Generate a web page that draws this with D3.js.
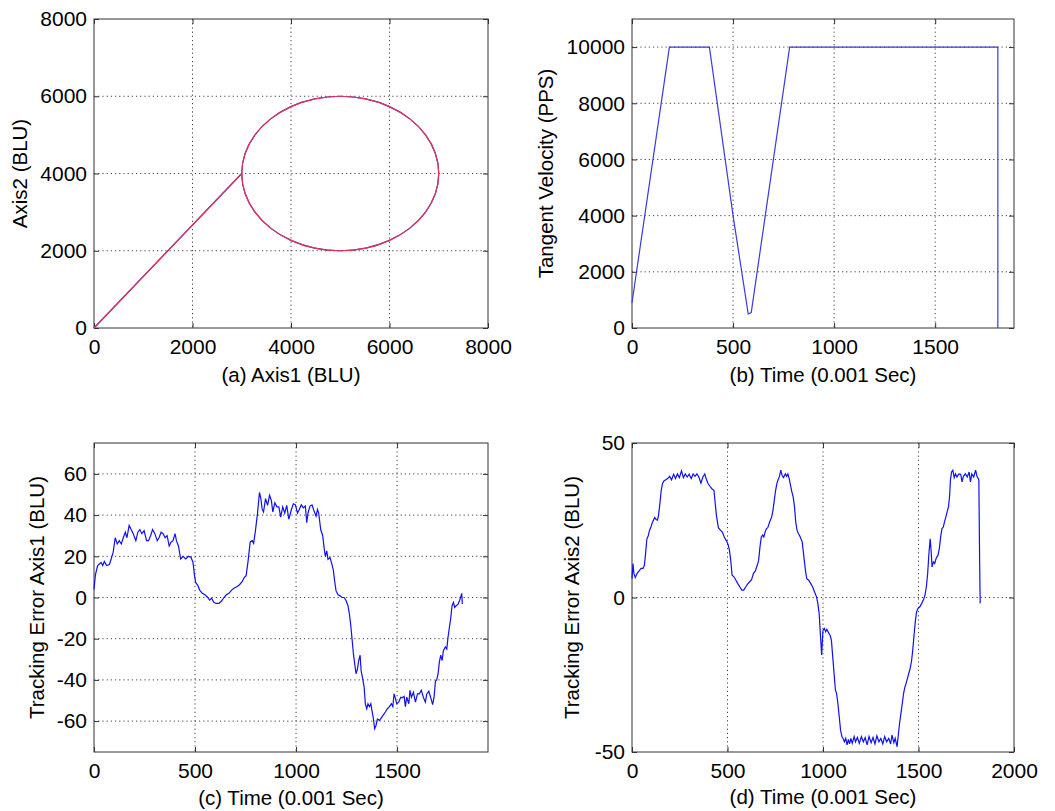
<!DOCTYPE html>
<html>
<head>
<meta charset="utf-8">
<style>
  body { margin: 0; background: #fff; }
  svg { font-family: 'Liberation Sans', Arial, sans-serif; }
  .axis text { font-size: 21px; fill: #000; }
  .axis .domain { display: none; }
  .axis .tick line { stroke: #333; }
  .grid line { stroke: #444; stroke-width: 1; stroke-dasharray: 1.2 3; }
  .label { font-size: 20.5px; fill: #000; }
</style>
</head>
<body>
<svg width="1055" height="811"></svg>
<script src="https://d3js.org/d3.v7.min.js"></script>
<script>
// (a) path: straight lead-in then the circle
const leadX = [0, 3000];
const leadY = [0, 4000];
const circleX = [3000, 3068, 3268, 3586, 4000, 4482, 5000, 5518, 6000, 6414, 6732, 6932,
                 7000, 6932, 6732, 6414, 6000, 5518, 5000, 4482, 4000, 3586, 3268, 3068];
const circleY = [4000, 4518, 5000, 5414, 5732, 5932, 6000, 5932, 5732, 5414, 5000, 4518,
                 4000, 3482, 3000, 2586, 2268, 2068, 2000, 2068, 2268, 2586, 3000, 3482];

// (b) tangent velocity
const velT = [0, 185, 383, 500, 575, 590, 780, 1810, 1810];
const velV = [900, 10000, 10000, 4000, 500, 550, 10000, 10000, 0];

// (c) tracking error axis1
const err1T = [0, 7, 18, 35, 43, 51, 62, 76, 85, 95, 105, 115, 125, 135, 145, 155, 163, 174, 184, 194,
  207, 217, 227, 237, 248, 260, 270, 280, 290, 301, 313, 322, 332, 342, 352, 362, 372, 382, 391, 401,
  408, 418, 429, 441, 454, 467, 480, 490, 497, 503, 513, 523, 536, 549, 563, 572, 582, 594, 605, 618,
  632, 643, 655, 668, 681, 694, 707, 720, 734, 744, 753, 763, 773, 783, 790, 799, 809, 819, 826, 832,
  839, 849, 859, 869, 878, 885, 895, 905, 915, 924, 934, 944, 954, 964, 977, 987, 997, 1007, 1016, 1026,
  1036, 1046, 1053, 1059, 1069, 1079, 1089, 1099, 1106, 1112, 1122, 1132, 1139, 1145, 1152, 1158, 1168, 1178, 1185, 1191,
  1198, 1208, 1218, 1228, 1238, 1248, 1257, 1264, 1271, 1277, 1284, 1290, 1297, 1304, 1310, 1317, 1322, 1330, 1337, 1343,
  1350, 1356, 1363, 1370, 1376, 1383, 1389, 1396, 1403, 1413, 1422, 1432, 1442, 1452, 1462, 1472, 1479, 1485, 1492, 1498,
  1508, 1518, 1525, 1535, 1541, 1548, 1558, 1564, 1571, 1581, 1591, 1601, 1610, 1620, 1630, 1640, 1647, 1657, 1666, 1676,
  1683, 1690, 1696, 1703, 1709, 1716, 1723, 1729, 1739, 1746, 1752, 1759, 1766, 1772, 1779, 1785, 1792, 1802, 1809, 1815,
  1820, 1823];
const err1V = [4, 11, 15.5, 17, 15.5, 17.5, 15.5, 16, 18.7, 22, 29, 26, 27.6, 26, 29, 31.7, 29, 35, 33, 31,
  27.6, 31.7, 33, 31, 32.5, 27.6, 27.6, 30, 33, 31, 27.6, 29, 31.7, 31, 29, 30, 25, 27, 27.6, 31,
  27.6, 25, 18.7, 20, 18.7, 20, 19.5, 17, 11, 7.3, 6, 3.6, 2, 1.3, 0, -1.3, -0.3, -2.4, -2.9, -2.9,
  -1.6, 0, 1.3, 2, 3.6, 4.6, 5.2, 6.2, 7.8, 9.8, 10.6, 18, 27, 27.6, 26.3, 32.5, 40.6, 51, 48, 43,
  41.5, 48, 44.7, 49.6, 47, 41.5, 46, 44, 44, 39, 44, 41, 44.7, 38, 42.7, 45.5, 45, 41, 42.7, 45,
  43.5, 44.4, 36.3, 41, 44.4, 45, 42, 39.5, 42.7, 41, 33, 30, 24, 20, 22.6, 18.5, 19.4, 16, 13, 8,
  3.2, 1.3, 0.8, 0, 0, -1.6, -4, -8, -13.7, -20, -27.4, -32, -37, -34.7, -30.6, -28, -35.5, -39.5, -43.5, -51.6,
  -54, -51.6, -53, -51.6, -55, -59, -63.7, -62, -59, -59.7, -58.4, -57, -55.6, -54, -53, -51.6, -53, -46.8, -49, -51.6,
  -50.8, -48.4, -48.7, -48, -53, -48.4, -51.6, -45, -48.4, -46, -50.8, -46.8, -46.8, -45, -48.4, -50.8, -46.8, -45.5, -48.4, -52,
  -48.4, -40.6, -40, -37, -31.5, -28, -30.6, -25.8, -24, -25, -19.4, -14.5, -9.7, -4, -2.4, -4.8, -4, -3.2, -1.6, 0.3,
  2, -3.2];

// (d) tracking error axis2
const err2T = [0, 5, 10, 17, 27, 37, 48, 58, 65, 71, 78, 85, 92, 99, 105, 112, 119, 126, 133, 139,
  146, 153, 160, 167, 177, 187, 197, 207, 218, 228, 238, 248, 259, 269, 279, 289, 299, 310, 320, 330,
  340, 350, 361, 371, 381, 388, 398, 408, 418, 429, 435, 442, 452, 463, 473, 483, 493, 503, 510, 517,
  524, 534, 544, 554, 565, 575, 585, 595, 605, 616, 626, 636, 646, 656, 663, 670, 677, 684, 690, 697,
  704, 711, 721, 731, 738, 745, 752, 759, 765, 772, 779, 786, 793, 803, 810, 816, 823, 830, 837, 844,
  851, 857, 864, 871, 881, 891, 898, 908, 915, 925, 936, 946, 956, 966, 973, 980, 986, 993, 997, 1000,
  1007, 1014, 1020, 1031, 1037, 1044, 1051, 1058, 1065, 1071, 1078, 1085, 1092, 1099, 1105, 1112, 1119, 1126, 1133, 1139,
  1146, 1153, 1163, 1170, 1180, 1190, 1201, 1211, 1221, 1231, 1241, 1252, 1262, 1272, 1282, 1293, 1303, 1313, 1323, 1333,
  1344, 1354, 1361, 1371, 1378, 1388, 1395, 1401, 1408, 1415, 1422, 1429, 1435, 1442, 1449, 1456, 1463, 1469, 1476, 1483,
  1490, 1497, 1507, 1517, 1527, 1534, 1541, 1548, 1554, 1561, 1566, 1571, 1578, 1585, 1592, 1602, 1609, 1616, 1623, 1630,
  1636, 1643, 1650, 1657, 1663, 1667, 1673, 1680, 1687, 1694, 1701, 1711, 1721, 1728, 1735, 1745, 1755, 1765, 1772, 1779,
  1789, 1799, 1806, 1813, 1816, 1820, 1823];
const err2V = [6.1, 11, 7.8, 6.5, 7.8, 8.6, 9.4, 9.4, 10.5, 14.2, 19, 20, 21.8, 22.8, 24, 25, 25.9, 25.2, 25, 26.6,
  30.4, 34.7, 36.9, 37.7, 38.1, 38.5, 39.2, 38.1, 39.9, 38.5, 40, 38.8, 41, 38.8, 40, 39, 39.9, 38.5, 40, 39.2,
  40, 39, 37, 39, 40, 38.5, 36.9, 36, 35.2, 34.7, 30.9, 26.6, 22.6, 21.8, 21.2, 19.6, 18.5, 17.2, 15.3, 12,
  7.2, 6.7, 5.6, 4.5, 3.4, 2.4, 2.4, 3.4, 4.3, 5.1, 5.8, 7.8, 8.6, 10.5, 12, 16.4, 19.6, 20.2, 19.6, 21.2,
  22.3, 22.6, 24.5, 26, 28.2, 31.5, 34.7, 37, 38.1, 39.2, 41.2, 39.5, 38.8, 40, 39.2, 40, 38.5, 36.3, 34.2, 32.5,
  29.3, 24.5, 21.8, 20.7, 19.6, 18, 14.2, 8.8, 6.1, 5.6, 4.5, 3.4, 1.8, 0.2, -1.9, -5.2, -11.6, -18.6, -13.8, -10.6,
  -10, -11.1, -10.3, -11.6, -12.2, -13.8, -19.2, -24.6, -30, -31, -34.3, -38.6, -42.9, -45, -45.6, -46.7, -45.6, -47.7, -45.9, -47.4,
  -45.6, -47.2, -45, -46.7, -45.3, -47.2, -45, -46.7, -45.3, -47.7, -45, -47, -45.3, -47.4, -44.8, -46.7, -45.6, -47.4, -45, -46.7,
  -45.6, -47.4, -44.5, -47, -45.6, -48.3, -44, -40.7, -37.5, -34.3, -31, -28.9, -27.8, -26.2, -24.6, -23, -20.8, -17.6, -12.7, -7.9,
  -4.6, -3.6, -3, -1.9, -0.6, 0.8, 3.4, 7.8, 13.7, 19, 15.3, 9.9, 11.5, 11, 12.6, 13.7, 15.8, 19.6, 22.3, 22.8,
  24.5, 26, 27.7, 29.3, 33, 37.9, 40.6, 41.2, 38.8, 40, 39, 40, 39.9, 37.4, 39.2, 40, 39, 40.6, 37.4, 40,
  39, 41.2, 39.2, 38.5, 37.9, 12, -1.9];

// ticks
const ticksA = [0, 2000, 4000, 6000, 8000];
const ticksTime = [0, 500, 1000, 1500];
const ticksTimeD = [0, 500, 1000, 1500, 2000];
const ticksVel = [0, 2000, 4000, 6000, 8000, 10000];
const ticksErr1 = [-60, -40, -20, 0, 20, 40, 60];
const ticksErr2 = [-50, 0, 50];

const svg = d3.select("svg");

function panel(cfg) {
    let x = d3.scaleLinear().domain(cfg.xDomain).range([cfg.left, cfg.right]);
    let y = d3.scaleLinear().domain(cfg.yDomain).range([cfg.bottom, cfg.top]);
    let g = svg.append("g");

    // dotted grid
    let grid = g.append("g").attr("class", "grid");
    grid.selectAll(".gx").data(cfg.xGrid).join("line")
        .attr("x1", d => x(d)).attr("x2", d => x(d))
        .attr("y1", cfg.top).attr("y2", cfg.bottom);
    grid.selectAll(".gy").data(cfg.yGrid).join("line")
        .attr("x1", cfg.left).attr("x2", cfg.right)
        .attr("y1", d => y(d)).attr("y2", d => y(d));

    g.append("g").attr("class", "axis")
        .attr("transform", `translate(0,${cfg.bottom})`)
        .call(d3.axisBottom(x).tickValues(cfg.xTicks).tickSizeInner(-5).tickSizeOuter(0).tickPadding(11).tickFormat(d3.format("d")));
    g.append("g").attr("class", "axis")
        .attr("transform", `translate(${cfg.left},0)`)
        .call(d3.axisLeft(y).tickValues(cfg.yTicks).tickSizeInner(-5).tickSizeOuter(0).tickPadding(7).tickFormat(d => d < 0 ? "-" + Math.abs(d) : d));
    g.append("g").attr("class", "axis")
        .attr("transform", `translate(0,${cfg.top})`)
        .call(d3.axisTop(x).tickValues(cfg.xTicks).tickSizeInner(-5).tickSizeOuter(0).tickFormat(""));
    g.append("g").attr("class", "axis")
        .attr("transform", `translate(${cfg.right},0)`)
        .call(d3.axisRight(y).tickValues(cfg.yTicks).tickSizeInner(-5).tickSizeOuter(0).tickFormat(""));

    g.append("rect")
        .attr("x", cfg.left).attr("y", cfg.top)
        .attr("width", cfg.right - cfg.left).attr("height", cfg.bottom - cfg.top)
        .style("fill", "none").style("stroke", "#333").style("stroke-width", 1);

    g.append("text").attr("class", "label")
        .attr("x", (cfg.left + cfg.right) / 2).attr("y", cfg.xLabelY)
        .attr("text-anchor", "middle").text(cfg.xLabel);
    g.append("text").attr("class", "label")
        .attr("transform", `translate(${cfg.yLabelX},${(cfg.top + cfg.bottom) / 2}) rotate(-90)`)
        .attr("text-anchor", "middle").attr("dy", "0.35em").text(cfg.yLabel);

    return { x, y, g };
}

// (a)
let pa = panel({
    left: 94, right: 488, top: 19, bottom: 328,
    xDomain: [0, 8000], yDomain: [0, 8000],
    xTicks: ticksA, yTicks: ticksA,
    xGrid: [2000, 4000, 6000], yGrid: [2000, 4000, 6000],
    xLabel: "(a) Axis1 (BLU)", xLabelY: 382,
    yLabel: "Axis2 (BLU)", yLabelX: 20
});
let leadLine = d3.line().x(i => pa.x(leadX[i])).y(i => pa.y(leadY[i]));
let ring = d3.line().curve(d3.curveCardinalClosed).x(i => pa.x(circleX[i])).y(i => pa.y(circleY[i]));
// blue command path under the red actual path
[["#2a2ad8", 1.2], ["#e8305a", 1.2]].forEach(function (s) {
    pa.g.append("path").attr("d", leadLine(d3.range(leadX.length)))
        .style("fill", "none").style("stroke", s[0]).style("stroke-width", s[1]);
    pa.g.append("path").attr("d", ring(d3.range(circleX.length)))
        .style("fill", "none").style("stroke", s[0]).style("stroke-width", s[1]);
});

// (b)
let pb = panel({
    left: 632, right: 1014, top: 19, bottom: 328,
    xDomain: [0, 1890], yDomain: [0, 11000],
    xTicks: ticksTime, yTicks: ticksVel,
    xGrid: [500, 1000, 1500], yGrid: [2000, 4000, 6000, 8000, 10000],
    xLabel: "(b) Time (0.001 Sec)", xLabelY: 382,
    yLabel: "Tangent Velocity (PPS)", yLabelX: 546
});
pb.g.append("path")
    .attr("d", d3.line().x(i => pb.x(velT[i])).y(i => pb.y(velV[i]))(d3.range(velT.length)))
    .style("fill", "none").style("stroke", "#3a3ae0").style("stroke-width", 1.2);

// (c)
let pc = panel({
    left: 94, right: 488, top: 443, bottom: 752,
    xDomain: [0, 1950], yDomain: [-75, 75],
    xTicks: ticksTime, yTicks: ticksErr1,
    xGrid: [500, 1000, 1500], yGrid: ticksErr1,
    xLabel: "(c) Time (0.001 Sec)", xLabelY: 805,
    yLabel: "Tracking Error Axis1 (BLU)", yLabelX: 37
});
pc.g.append("path")
    .attr("d", d3.line().x(i => pc.x(err1T[i])).y(i => pc.y(err1V[i]))(d3.range(err1T.length)))
    .style("fill", "none").style("stroke", "#1010f0").style("stroke-width", 1.2);

// (d)
let pd = panel({
    left: 632, right: 1014, top: 443, bottom: 752,
    xDomain: [0, 2000], yDomain: [-50, 50],
    xTicks: ticksTimeD, yTicks: ticksErr2,
    xGrid: [500, 1000, 1500], yGrid: [0],
    xLabel: "(d) Time (0.001 Sec)", xLabelY: 804,
    yLabel: "Tracking Error Axis2 (BLU)", yLabelX: 572
});
pd.g.append("path")
    .attr("d", d3.line().x(i => pd.x(err2T[i])).y(i => pd.y(err2V[i]))(d3.range(err2T.length)))
    .style("fill", "none").style("stroke", "#1010f0").style("stroke-width", 1.2);
</script>
</body>
</html>
